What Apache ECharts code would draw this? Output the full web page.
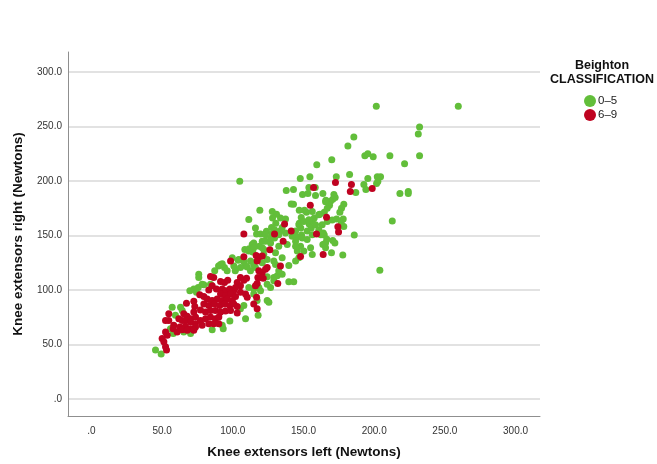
<!DOCTYPE html>
<html>
<head>
<meta charset="utf-8">
<script src="https://cdn.jsdelivr.net/npm/echarts@6/dist/echarts.min.js"></script>
<style>
  html, body { margin: 0; padding: 0; background: #ffffff; }
  #chart { width: 657px; height: 464px; }
</style>
</head>
<body>
<div id="chart"></div>
<script>
// Beighton classification groups
const categories = ['0–5', '6–9'];
const tickValues = [0, 50, 100, 150, 200, 250, 300];
const xTitle = 'Knee extensors left (Newtons)';
const yTitle = 'Knee extensors right (Newtons)';

// [left, right] knee extensor strength, Beighton score 0–5
const group05 = [
  [201.5,268.3],[259.5,268.3],[232.1,249.3],[231.2,243.0],[185.6,240.2],[181.4,232.0],[170.0,219.3],[159.4,214.8],
  [193.4,223.0],[195.5,224.8],[199.3,222.1],[211.1,223.0],[221.5,215.7],[232.1,223.0],[147.7,202.1],[154.5,203.9],
  [173.2,203.9],[182.6,205.8],[195.5,202.1],[202.2,203.9],[204.5,203.9],[202.6,199.4],[201.7,197.6],[192.7,196.7],
  [137.8,191.3],[142.9,192.2],[153.8,194.0],[158.3,194.0],[187.0,189.4],[194.1,192.2],[218.2,188.5],[224.1,190.3],
  [224.1,188.5],[212.8,163.2],[185.9,150.5],[204.0,118.1],[104.9,199.7],
  [149.3,187.6],[153.1,188.5],[158.5,186.7],[163.7,188.5],[142.9,178.6],[171.5,187.6],[172.4,184.9],[170.7,183.1],
  [169.1,181.3],[165.8,182.2],[168.4,177.7],[166.8,174.9],[178.5,178.6],[176.9,174.9],[175.7,171.3],[161.5,169.5],
  [164.7,171.3],[170.3,164.1],[178.1,165.0],[176.7,161.3],[150.7,173.1],[152.1,171.3],[147.0,161.3],[154.0,160.4],
  [156.2,163.2],[157.6,165.9],[133.7,165.9],[137.3,165.0],[144.4,154.1],[148.1,156.8],[152.6,154.1],[155.5,156.8],
  [164.0,152.3],[164.7,150.5],[148.6,150.5],[145.1,148.6],
  [141.3,178.8],[147.0,173.1],[119.1,173.1],[127.9,171.9],[130.9,169.5],[111.3,164.7],[148.4,166.5],[173.4,165.2],
  [178.5,158.3],[128.1,165.9],[130.4,161.3],[127.4,157.4],[134.9,157.4],[129.5,155.3],[158.5,159.8],[162.3,150.7],
  [166.5,146.6],[170.7,145.3],[172.2,143.2],[177.8,132.1],[163.7,141.7],[169.8,134.1],
  [116.8,151.4],[119.6,151.4],[123.8,153.8],[127.9,151.6],[131.4,152.3],[133.2,153.8],
  [120.8,144.8],[123.1,144.8],[126.7,143.2],[129.5,147.7],[114.8,143.2],[118.7,140.2],[121.9,137.1],[111.6,137.8],
  [114.1,134.8],[145.6,135.7],[147.9,140.2],[155.0,138.7],
  [104.2,128.1],[107.8,126.0],[112.5,126.6],[114.8,123.0],[144.4,126.6],[139.6,122.6],[134.9,129.6],[129.0,126.6],
  [130.2,123.5],[89.9,122.1],[94.1,120.6],[101.7,117.6],[124.3,112.1],[129.0,111.5],[131.4,113.0],[134.9,114.5],
  [139.6,107.6],[143.1,107.6],[79.5,104.9],[84.2,105.4],
  [156.2,171.9],[146.7,159.8],[150.2,162.9],[153.8,164.3],[160.8,168.9],[165.6,181.0],[166.8,162.9],
  [116.0,156.8],[123.1,150.7],[126.7,147.7],[132.5,150.7],[137.3,152.3],[142.0,149.3],[144.4,144.8],[149.1,147.7],
  [152.6,146.2],[156.2,150.7],[160.8,155.3],[163.2,159.8],
  [113.7,141.7],[120.8,138.7],[121.9,132.6],[130.2,134.1],[132.5,140.2],[138.5,141.7],[144.4,140.2],[150.2,135.7],
  [146.7,129.6],[156.2,132.6],[165.6,143.2],[165.6,138.7],
  [108.5,137.1],[111.3,135.7],[114.8,138.7],[99.6,129.6],[103.8,127.2],[92.5,124.2],[87.2,117.6],[96.0,117.6],
  [101.9,119.0],[109.0,122.1],[112.5,117.6],[116.0,120.6],[120.8,125.1],[124.3,128.1],[132.5,117.6],[126.7,102.4],
  [118.4,102.4],[114.8,96.4],[117.2,90.4],[124.3,90.4],[75.9,114.5],[75.5,102.4],
  [91.3,123.5],[100.7,122.1],[105.4,120.6],[110.2,121.2],[114.8,125.1],[75.9,111.5],[78.3,105.4],[72.4,100.9],
  [69.6,99.4],[74.3,97.9],[111.3,102.4],[114.8,100.9],[119.6,99.4],[124.3,105.4],[129.0,108.5],[125.5,88.8],
  [107.8,85.8],[105.4,82.8],[57.1,84.3],[64.2,81.3],[63.0,84.3],[109.0,73.7],[97.9,71.6],[92.5,67.7],
  [85.4,63.7],[65.3,61.6],[70.1,60.1],[55.9,64.6],[45.3,45.0],[49.3,41.4],[117.9,76.8],[59.4,76.8],
  [57.8,60.1],[93.2,64.6]
];

// [left, right] knee extensor strength, Beighton score 6–9
const group69 = [
  [157.1,194.0],[172.6,198.5],[183.9,196.7],[183.1,190.3],[198.6,193.1],[154.8,177.7],[166.3,166.8],[174.3,158.0],
  [174.8,153.2],[136.6,160.4],[141.3,154.1],[159.2,151.4],[107.8,151.4],[135.6,144.8],[126.2,136.9],[147.9,130.8],
  [107.8,130.5],[116.5,131.7],[118.4,130.3],[120.8,131.2],[98.4,126.6],[133.7,122.1],[124.3,120.6],[120.8,116.0],
  [123.1,119.0],[131.8,106.0],[86.5,111.5],[84.2,112.4],[163.9,132.6],[129.5,151.4],
  [117.2,126.6],[118.4,117.6],[91.3,107.9],[94.1,107.0],[96.4,109.0],[105.4,111.5],[107.8,109.0],[109.7,110.9],
  [103.1,107.0],[105.4,104.0],[117.7,111.5],[117.2,106.0],[116.0,104.0],[121.5,110.9],[85.4,104.0],[83.0,100.0],
  [88.4,100.9],[92.5,100.9],[94.8,99.4],[97.9,100.9],[100.7,99.4],[91.3,96.4],[94.8,94.9],[98.4,96.4],
  [101.9,94.0],[105.4,97.9],[109.0,96.4],[110.2,93.4],[76.6,95.8],[79.5,94.0],[81.9,91.8],[85.4,90.4],
  [88.9,91.8],[92.5,90.4],[96.0,91.8],[99.6,90.4],[79.5,87.3],[83.0,85.8],[87.0,87.3],[90.8,85.8],
  [94.3,87.3],[97.9,85.8],[100.7,87.3],[67.2,87.9],[72.4,89.7],[73.1,84.9],[72.4,79.8],[77.1,81.8],
  [80.7,79.8],[84.2,81.3],[87.7,81.3],[91.3,79.8],[94.8,80.7],[98.4,81.3],[103.1,84.9],[103.1,78.9],
  [65.3,78.2],[67.7,75.9],[70.1,73.7],[73.6,75.2],[61.8,73.7],[64.2,72.2],[66.5,72.2],[70.1,70.7],
  [73.6,69.2],[77.1,72.2],[80.7,73.7],[84.2,75.2],[87.7,73.7],[90.1,75.2],[58.2,67.7],[62.5,66.2],
  [66.5,66.8],[70.1,64.6],[73.6,66.2],[78.3,67.7],[83.0,69.2],[86.5,69.2],[90.1,69.2],[54.7,72.2],
  [52.4,72.2],[57.8,64.6],[60.6,61.6],[64.2,63.7],[67.7,63.2],[72.4,63.2],[52.4,61.6],[53.6,58.6],
  [50.0,55.6],[51.2,52.6],[52.4,48.0],[53.1,45.0],[116.8,93.4],[114.8,87.3],[117.2,82.8],[54.7,78.2],
  [119.6,111.5],[101.9,102.4]
];

const colors = ['#62be3a', '#bf0320'];
const fontFamily = '"Liberation Sans", Arial, sans-serif';
const fmt = v => (v === 0 ? '.0' : v.toFixed(1));

const chart = echarts.init(document.getElementById('chart'), null, { renderer: 'canvas' });

chart.setOption({
  animation: false,
  backgroundColor: '#ffffff',
  textStyle: { fontFamily },
  grid: { left: 68, right: 117, top: 52, bottom: 44, containLabel: false },
  xAxis: {
    type: 'value',
    min: -16.6,
    max: 317.3,
    name: xTitle,
    nameLocation: 'middle',
    nameGap: 29,
    nameTextStyle: { fontWeight: 'bold', fontSize: 13.5, color: '#111', fontFamily },
    axisLine: { show: true, onZero: false, lineStyle: { color: '#8f8f8f', width: 1 } },
    axisTick: { show: false, customValues: tickValues },
    axisLabel: { customValues: tickValues, formatter: fmt, fontSize: 10, color: '#333', margin: 10, fontFamily },
    splitLine: { show: false }
  },
  yAxis: {
    type: 'value',
    min: -15.4,
    max: 318.1,
    name: yTitle,
    nameLocation: 'middle',
    nameGap: 43,
    nameTextStyle: { fontWeight: 'bold', fontSize: 13.5, color: '#111', fontFamily },
    axisLine: { show: true, onZero: false, lineStyle: { color: '#8f8f8f', width: 1 } },
    axisTick: { show: false, customValues: tickValues },
    axisLabel: { customValues: tickValues, formatter: fmt, fontSize: 10, color: '#333', margin: 6, fontFamily },
    splitLine: { show: true, lineStyle: { color: '#d9d9d9', width: 1.5 } }
  },
  legend: {
    data: categories,
    orient: 'vertical',
    left: 579,
    top: 90,
    icon: 'circle',
    itemWidth: 12,
    itemHeight: 12,
    itemGap: 2,
    textStyle: { fontSize: 11.5, color: '#222', fontFamily, padding: [0, 0, 0, -3] },
    selectedMode: false
  },
  graphic: [
    {
      type: 'text',
      style: { text: 'Beighton', x: 602, y: 66, align: 'center', verticalAlign: 'middle',
               font: 'bold 12.5px ' + fontFamily, fill: '#111' }
    },
    {
      type: 'text',
      style: { text: 'CLASSIFICATION', x: 602, y: 80, align: 'center', verticalAlign: 'middle',
               font: 'bold 12.5px ' + fontFamily, fill: '#111' }
    }
  ],
  series: [
    {
      name: categories[0], type: 'scatter', data: group05, symbolSize: 7,
      itemStyle: { color: colors[0], opacity: 1 }, z: 2
    },
    {
      name: categories[1], type: 'scatter', data: group69, symbolSize: 7,
      itemStyle: { color: colors[1], opacity: 1 }, z: 3
    }
  ]
});
</script>
</body>
</html>
